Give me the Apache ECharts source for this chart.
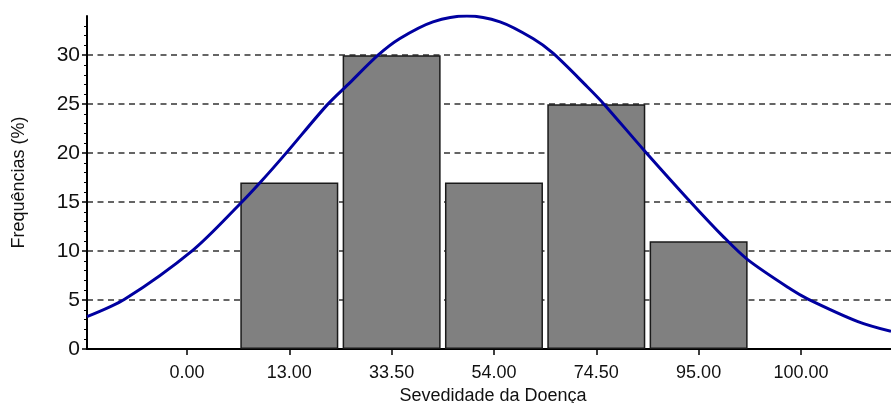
<!DOCTYPE html>
<html>
<head>
<meta charset="utf-8">
<script src="https://cdn.jsdelivr.net/npm/echarts@6/dist/echarts.min.js"></script>
<style>
  html, body { margin: 0; padding: 0; background: #fff; }
  #hist { width: 891px; height: 403px; }
</style>
</head>
<body>
<div id="hist"></div>
<script>
// class labels (evenly spaced on the axis, position = index)
var classLabels = ['0.00', '13.00', '33.50', '54.00', '74.50', '95.00', '100.00'];
// bars sit on classes 1..5
var barPos = [1, 2, 3, 4, 5];
var barFreq = [17, 30, 17, 25, 11];
// normal curve: [axis position, frequency %]
var curveX = [-0.977, -0.606, 0.059, 0.508, 0.733, 0.977, 1.368, 1.593, 1.867, 2.081, 2.404, 2.736,
  3.059, 3.381, 3.577, 3.909, 4.075, 4.466, 4.896, 5.248, 5.482, 5.902, 6.069, 6.557, 6.88];
var curveY = [3.3, 5.1, 10.1, 14.7, 17.2, 20.1, 24.9, 27.2, 30.0, 31.7, 33.4, 34.0,
  33.4, 31.7, 30.2, 26.8, 25.0, 20.3, 15.3, 11.4, 9.1, 6.1, 5.1, 2.8, 1.8];
var yTicks = [0, 5, 10, 15, 20, 25, 30];

var chartDom = document.getElementById('hist');
var myChart = echarts.init(chartDom);
var option;

var labelIdx = [];
for (var i = 0; i < classLabels.length; i++) {
  labelIdx.push(i);
}
var bars = [];
for (var i = 0; i < barPos.length; i++) {
  bars.push([barPos[i], barFreq[i]]);
}
var curve = [];
for (var i = 0; i < curveX.length; i++) {
  curve.push([curveX[i], curveY[i]]);
}

var font = 'Liberation Sans, Arial, sans-serif';

option = {
  animation: false,
  grid: {
    left: 87,
    right: 0,
    top: 16,
    bottom: 54,
    outerBoundsMode: 'none'
  },
  xAxis: {
    type: 'value',
    min: -0.977,
    max: 6.88,
    name: 'Sevedidade da Doença',
    nameLocation: 'middle',
    nameGap: 32,
    nameTextStyle: {
      fontFamily: font,
      fontSize: 18,
      color: '#111',
      padding: [0, 0, 0, 8]
    },
    axisLine: {
      onZero: false,
      lineStyle: { color: '#000', width: 2 }
    },
    axisTick: {
      show: true,
      customValues: labelIdx,
      length: 6,
      lineStyle: { color: '#000', width: 1.5 }
    },
    axisLabel: {
      customValues: labelIdx,
      margin: 15,
      fontFamily: font,
      fontSize: 18,
      color: '#111',
      formatter: function (v) {
        return classLabels[Math.round(v)];
      }
    },
    splitLine: { show: false }
  },
  yAxis: {
    type: 'value',
    min: 0,
    max: 34,
    interval: 5,
    name: 'Frequências (%)',
    nameLocation: 'middle',
    nameGap: 59,
    nameTextStyle: {
      fontFamily: font,
      fontSize: 18,
      color: '#111'
    },
    axisLine: {
      show: true,
      onZero: false,
      lineStyle: { color: '#000', width: 2 }
    },
    axisTick: {
      show: true,
      customValues: yTicks,
      length: 5,
      lineStyle: { color: '#000', width: 1.5 }
    },
    minorTick: {
      show: true,
      splitNumber: 5,
      length: 3,
      lineStyle: { color: '#000', width: 1 }
    },
    axisLabel: {
      customValues: yTicks,
      margin: 7,
      fontFamily: font,
      fontSize: 21,
      color: '#111'
    },
    splitLine: {
      show: true,
      lineStyle: { color: '#333', width: 1.5, type: [6, 4.5] }
    }
  },
  series: [
    {
      type: 'bar',
      data: bars,
      barWidth: 98,
      z: 2,
      itemStyle: {
        color: '#808080',
        borderColor: '#1a1a1a',
        borderWidth: 1.5
      }
    },
    {
      type: 'line',
      data: curve,
      smooth: 0.3,
      showSymbol: false,
      z: 3,
      lineStyle: { color: '#0000a0', width: 3 }
    }
  ]
};

option && myChart.setOption(option);
</script>
</body>
</html>
